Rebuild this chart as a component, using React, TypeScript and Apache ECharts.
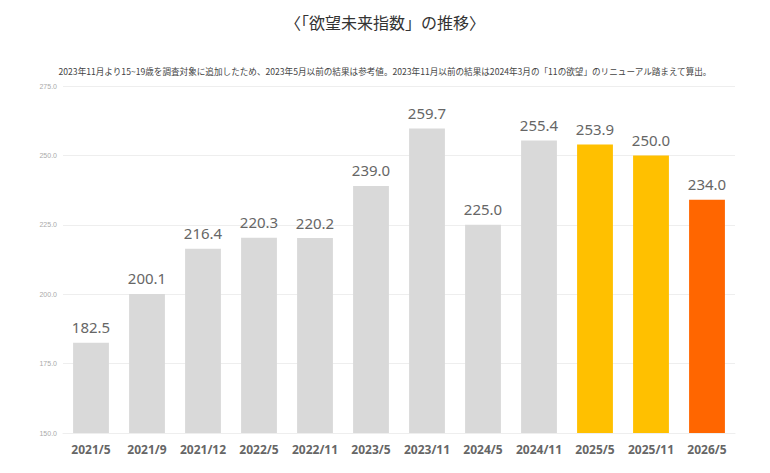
import React, { useEffect, useRef } from "react";
import * as echarts from "echarts";

const categories = ["2021/5", "2021/9", "2021/12", "2022/5", "2022/11", "2023/5", "2023/11", "2024/5", "2024/11", "2025/5", "2025/11", "2026/5"];
const values = [182.5, 200.1, 216.4, 220.3, 220.2, 239.0, 259.7, 225.0, 255.4, 253.9, 250.0, 234.0];
const barColors = ["#d9d9d9", "#d9d9d9", "#d9d9d9", "#d9d9d9", "#d9d9d9", "#d9d9d9", "#d9d9d9", "#d9d9d9", "#d9d9d9", "#ffc000", "#ffc000", "#ff6600"];
const titleText = "〈「欲望未来指数」の推移〉";
const noteText = "2023年11月より15~19歳を調査対象に追加したため、2023年5月以前の結果は参考値。2023年11月以前の結果は2024年3月の「11の欲望」のリニューアル踏まえて算出。";

export default function App() {
  const ref = useRef<HTMLDivElement>(null);
  useEffect(() => {
    const chart = echarts.init(ref.current!, null, { renderer: "svg" });
    chart.setOption({
      animation: false,
      backgroundColor: "#ffffff",
      title: [
        {
          text: titleText,
          left: "center",
          top: 9,
          textStyle: { fontSize: 16, fontWeight: "normal", color: "#333", fontFamily: "Noto Sans CJK JP" },
        },
        {
          text: noteText,
          left: "center",
          top: 62,
          textStyle: { fontSize: 8.6, fontWeight: "normal", color: "#444", fontFamily: "Noto Sans CJK JP" },
        },
      ],
      grid: { left: 63, right: 35, top: 86, bottom: 40 },
      xAxis: {
        type: "category",
        data: categories,
        axisTick: { show: false },
        axisLine: { lineStyle: { color: "#eeeeee" } },
        axisLabel: { interval: 0, fontSize: 12, fontWeight: "bold", color: "#666", margin: 10, fontFamily: "Noto Sans" },
      },
      yAxis: {
        type: "value",
        min: 150,
        max: 275,
        interval: 25,
        axisLine: { show: false },
        axisTick: { show: false },
        splitLine: { lineStyle: { color: "#eeeeee" } },
        axisLabel: {
          fontSize: 7,
          color: "#aaa",
          margin: 6,
          formatter: (v: number) => v.toFixed(1),
        },
      },
      series: [
        {
          type: "bar",
          barWidth: "64%",
          data: values.map((v, i) => ({ value: v, itemStyle: { color: barColors[i] } })),
          label: {
            show: true,
            position: "top",
            distance: 8,
            fontSize: 15,
            color: "#666",
            fontFamily: "Noto Sans",
            formatter: (p: any) => Number(p.value).toFixed(1),
          },
        },
      ],
    });
    return () => chart.dispose();
  }, []);
  return <div ref={ref} style={{ width: 770, height: 473, position: "absolute", left: 0, top: 0 }} />;
}
